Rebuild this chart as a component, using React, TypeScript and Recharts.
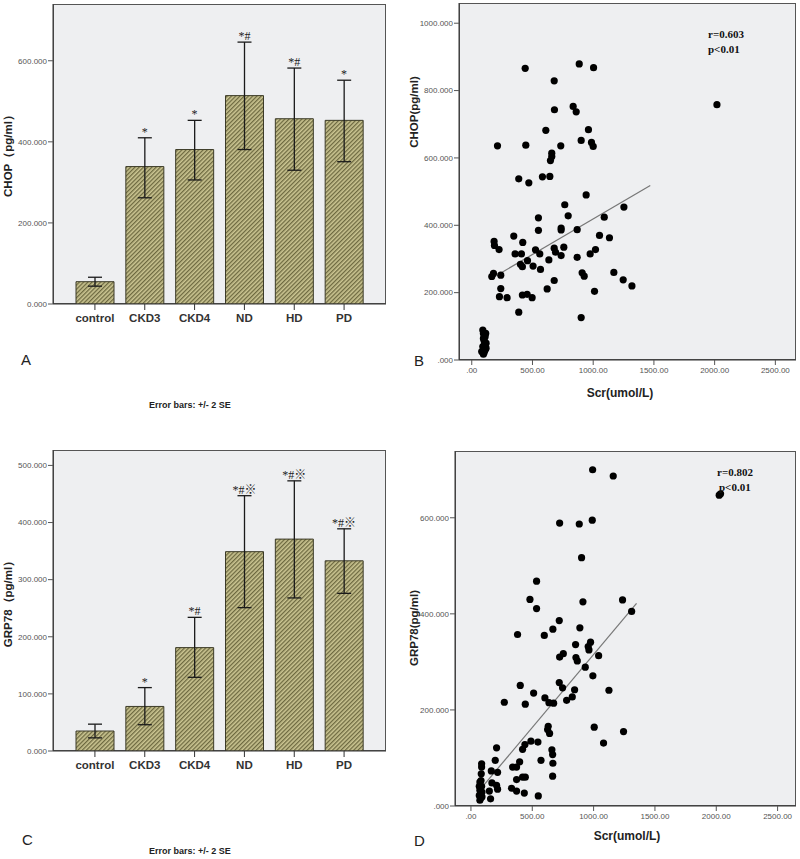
import React from 'react';
import {
  ComposedChart,
  Bar,
  Line,
  ErrorBar,
  LabelList,
  XAxis,
  YAxis,
  ScatterChart,
  Scatter,
  ReferenceLine,
} from 'recharts';

// groups shared by the two bar panels
const groups = ['control', 'CKD3', 'CKD4', 'ND', 'HD', 'PD'];

// panel A: CHOP, mean with +/- 2 SE bounds
const chopMean = [55, 339, 381, 514, 457, 453];
const chopLower = [44, 262, 306, 381, 330, 351];
const chopUpper = [66, 410, 453, 646, 582, 552];
const chopMarks = ['', '*', '*', '*#', '*#', '*'];
const chopTicks = [0, 200, 400, 600];

// panel C: GRP78
const grpMean = [35, 78, 181, 349, 371, 333];
const grpLower = [23, 46, 129, 251, 268, 276];
const grpUpper = [47, 111, 234, 447, 473, 389];
const grpMarks = ['', '*', '*#', '*#※', '*#※', '*#※'];
const grpTicks = [0, 100, 200, 300, 400, 500];

// panel B: Scr vs CHOP
const scrB = [440, 885, 1003, 679, 681, 835, 860, 2019, 610, 961, 901, 986, 1000, 212, 445, 733, 659, 659, 648, 387,
  470, 582, 643, 942, 766, 1253, 794, 549, 1091, 736, 736, 549, 868, 346, 1052, 1134, 184, 187, 225, 420,
  679, 758, 525, 357, 409, 560, 690, 736, 975, 1019, 868, 459, 635, 401, 417, 505, 566, 179, 165, 239,
  909, 926, 1170, 1247, 1319, 679, 239, 621, 228, 291, 417, 456, 497, 1011, 387, 901,
  91, 96, 110, 102, 118, 91, 110, 82, 102, 118, 96, 115, 104, 96];
const chopB = [866, 879, 868, 829, 743, 753, 737, 758, 682, 684, 652, 646, 634, 636, 638, 636, 614, 604, 592, 538,
  526, 544, 545, 490, 461, 454, 428, 422, 424, 392, 386, 385, 387, 368, 370, 363, 352, 340, 328, 349,
  332, 335, 327, 315, 315, 315, 320, 310, 315, 328, 305, 295, 297, 284, 277, 279, 269, 257, 248, 252,
  259, 249, 260, 238, 220, 236, 212, 211, 188, 185, 193, 195, 185, 204, 142, 126,
  89, 79, 69, 57, 50, 40, 30, 25, 22, 35, 64, 79, 45, 17];
const fitB = [{ x: 233, y: 257 }, { x: 1470, y: 518 }];
const chopBTicks = [0, 200, 400, 600, 800, 1000];

// panel D: Scr vs GRP78
const scrD = [992, 1160, 2024, 2035, 723, 883, 989, 902, 535, 481, 535, 913, 1236, 1310, 720, 888, 668, 380, 598, 853,
  975, 956, 962, 753, 723, 856, 867, 1041, 932, 994, 720, 747, 845, 1125, 402, 511, 826, 780, 603, 636,
  674, 443, 272, 630, 625, 641, 1005, 1244, 1081, 489, 546, 440, 421, 209, 660, 666, 668, 571, 198, 397,
  372, 340, 166, 217, 372, 421, 443, 666, 171, 209, 217, 331, 372, 435, 549, 150, 160,
  87, 87, 84, 82, 73, 68, 87, 73, 90, 68, 82, 73, 90];
const grpD = [700, 687, 647, 650, 589, 587, 595, 517, 468, 430, 411, 425, 429, 405, 386, 371, 368, 357, 355, 336,
  341, 332, 325, 317, 310, 309, 302, 313, 289, 271, 257, 246, 242, 241, 251, 235, 227, 220, 225, 215,
  214, 212, 216, 166, 159, 151, 164, 155, 131, 135, 133, 128, 118, 121, 117, 107, 89, 95, 95, 92,
  81, 81, 73, 70, 55, 60, 60, 62, 48, 43, 35, 37, 31, 27, 21, 31, 15,
  88, 81, 67, 53, 50, 41, 41, 33, 29, 22, 17, 12, 19];
const fitD = [{ x: 110, y: 45 }, { x: 1350, y: 422 }];
const grpDTicks = [0, 200, 400, 600];
const scrTicks = [0, 500, 1000, 1500, 2000, 2500];

const SANS = '"Liberation Sans", Arial, sans-serif';
const SERIF = '"Liberation Serif", "Times New Roman", "Noto Sans CJK SC", serif';
const PLOT_BG = '#eeeff1';

const buildBars = (mean: number[], lower: number[], upper: number[], marks: string[]) =>
  groups.map((g, i) => ({
    group: g,
    mean: mean[i],
    err: [mean[i] - lower[i], upper[i] - mean[i]],
    top: upper[i],
    mark: marks[i],
  }));

const chopData = buildBars(chopMean, chopLower, chopUpper, chopMarks);
const grpData = buildBars(grpMean, grpLower, grpUpper, grpMarks);
const pointsB = scrB.map((x, i) => ({ x, y: chopB[i] }));
const pointsD = scrD.map((x, i) => ({ x, y: grpD[i] }));

const fmtY = (v: number) => (v === 0 ? '0.000' : v.toFixed(3));
const fmtYs = (v: number) => (v === 0 ? '.000' : v.toFixed(3));
const fmtX = (v: number) => (v === 0 ? '.00' : v.toFixed(2));

const tickStyle = { fontSize: 8, fill: '#555', fontFamily: SANS };

const vLabel = (text: string, x: number, cy: number) => () => (
  <text
    x={x}
    y={cy}
    transform={`rotate(-90 ${x} ${cy})`}
    textAnchor="middle"
    dominantBaseline="central"
    fontSize={11.5}
    fontWeight="bold"
    fill="#222"
    fontFamily={SANS}
  >
    {text}
  </text>
);

// significance marks sit just above the upper error whisker
const MarkLabel = (p: any) =>
  p.value ? (
    <text x={p.x} y={p.y - 2} textAnchor="middle" fontSize={12} fill="#222" stroke="none" fontFamily={SERIF}>
      {p.value}
    </text>
  ) : null;

const Dot = (p: any) => <circle cx={p.cx} cy={p.cy} r={3.6} fill="#000" />;

type BarProps = {
  data: any[];
  yMax: number;
  ticks: number[];
  yLabel: string;
  labelY: number;
  height: number;
  top: number;
  bottom: number;
  id: string;
};

const BarPanel = ({ data, yMax, ticks, yLabel, labelY, height, top, bottom, id }: BarProps) => (
  <div style={{ position: 'relative', width: 400, height }}>
    <div
      style={{
        position: 'absolute',
        left: 53,
        top,
        width: 333,
        height: height - top - bottom,
        background: PLOT_BG,
        border: '1px solid #555',
        boxSizing: 'border-box',
      }}
    />
    <ComposedChart
      width={400}
      height={height}
      data={data}
      margin={{ top, right: 14, bottom: bottom - 30, left: 0 }}
      style={{ position: 'absolute', left: 0, top: 0 }}
    >
      <defs>
        <pattern id={id} width="3" height="3" patternUnits="userSpaceOnUse" patternTransform="rotate(45)">
          <rect width="3" height="3" fill="#cbc592" />
          <rect width="1.3" height="3" fill="#6d6940" />
        </pattern>
      </defs>
      <XAxis
        dataKey="group"
        height={30}
        padding={{ left: 17, right: 17 }}
        axisLine={{ stroke: '#333' }}
        tickLine={{ stroke: '#333' }}
        tickSize={6}
        tickMargin={4}
        tick={{ fontSize: 11.5, fontWeight: 'bold', fill: '#333', fontFamily: SANS }}
        interval={0}
      />
      <YAxis
        width={53}
        domain={[0, yMax]}
        ticks={ticks}
        allowDataOverflow
        tickFormatter={fmtY}
        axisLine={{ stroke: '#333' }}
        tickLine={{ stroke: '#555' }}
        tickSize={5}
        tickMargin={1}
        tick={tickStyle}
        label={vLabel(yLabel, 8, labelY)}
      />
      <Bar dataKey="mean" barSize={38} fill={`url(#${id})`} stroke="#3c3b28" strokeWidth={1} isAnimationActive={false}>
        <ErrorBar dataKey="err" width={7} stroke="#1a1a1a" strokeWidth={1.3} />
      </Bar>
      <Line dataKey="top" stroke="none" dot={false} activeDot={false} isAnimationActive={false}>
        <LabelList dataKey="mark" content={MarkLabel} />
      </Line>
    </ComposedChart>
  </div>
);

type ScatterProps = {
  points: { x: number; y: number }[];
  fit: { x: number; y: number }[];
  xDomain: number[];
  yMax: number;
  yTicks: number[];
  yLabel: string;
  labelY: number;
  height: number;
  top: number;
  bottom: number;
  yWidth: number;
};

const ScatterPanel = ({ points, fit, xDomain, yMax, yTicks, yLabel, labelY, height, top, bottom, yWidth }: ScatterProps) => (
  <div style={{ position: 'relative', width: 400, height }}>
    <div
      style={{
        position: 'absolute',
        left: yWidth,
        top,
        width: 400 - 4 - yWidth,
        height: height - top - bottom,
        background: PLOT_BG,
        border: '1px solid #555',
        boxSizing: 'border-box',
      }}
    />
    <ScatterChart
      width={400}
      height={height}
      margin={{ top, right: 4, bottom: bottom - 20, left: 0 }}
      style={{ position: 'absolute', left: 0, top: 0 }}
    >
      <XAxis
        type="number"
        dataKey="x"
        height={20}
        domain={xDomain}
        ticks={scrTicks}
        allowDataOverflow
        tickFormatter={fmtX}
        axisLine={{ stroke: '#333' }}
        tickLine={{ stroke: '#555' }}
        tickSize={5}
        tickMargin={2}
        tick={tickStyle}
      />
      <YAxis
        type="number"
        dataKey="y"
        width={yWidth}
        domain={[0, yMax]}
        ticks={yTicks}
        allowDataOverflow
        tickFormatter={fmtYs}
        axisLine={{ stroke: '#333' }}
        tickLine={{ stroke: '#555' }}
        tickSize={5}
        tickMargin={1}
        tick={tickStyle}
        label={vLabel(yLabel, 14, labelY)}
      />
      <ReferenceLine segment={fit} stroke="#777" strokeWidth={1.2} />
      <Scatter data={points} shape={Dot} isAnimationActive={false} />
    </ScatterChart>
  </div>
);

const abs = (left: number, top: number, extra: React.CSSProperties = {}): React.CSSProperties => ({
  position: 'absolute',
  left,
  top,
  lineHeight: 1,
  whiteSpace: 'nowrap',
  ...extra,
});

const letter = { fontSize: 15, fontFamily: SANS, color: '#222' };
const caption = { fontSize: 9, fontWeight: 'bold' as const, fontFamily: SANS, color: '#222', width: 200, textAlign: 'center' as const };
const stat = { fontSize: 11, fontWeight: 'bold' as const, fontFamily: SERIF, color: '#111' };
const xTitle = { fontSize: 12, fontWeight: 'bold' as const, fontFamily: SANS, color: '#222', width: 200, textAlign: 'center' as const };

export default function App() {
  return (
    <div style={{ position: 'absolute', left: 0, top: 0, width: 800, height: 859, background: '#fff', overflow: 'hidden' }}>
      <div style={abs(0, 0)}>
        <BarPanel data={chopData} yMax={740} ticks={chopTicks} yLabel="CHOP（pg/ml）" labelY={153}
          height={420} top={4} bottom={116} id="hatchA" />
      </div>
      <div style={abs(400, 0)}>
        <ScatterPanel points={pointsB} fit={fitB} xDomain={[-105, 2670]} yMax={1060} yTicks={chopBTicks}
          yLabel="CHOP(pg/ml)" labelY={112} height={420} top={3} bottom={60} yWidth={59} />
      </div>
      <div style={abs(0, 420)}>
        <BarPanel data={grpData} yMax={527} ticks={grpTicks} yLabel="GRP78（pg/ml）" labelY={181}
          height={439} top={30} bottom={108} id="hatchC" />
      </div>
      <div style={abs(400, 420)}>
        <ScatterPanel points={pointsD} fit={fitD} xDomain={[-130, 2650]} yMax={739} yTicks={grpDTicks}
          yLabel="GRP78(pg/ml)" labelY={208} height={439} top={31} bottom={53} yWidth={55} />
      </div>

      <div style={abs(21, 352, letter)}>A</div>
      <div style={abs(414, 353, letter)}>B</div>
      <div style={abs(22, 832, letter)}>C</div>
      <div style={abs(414, 833, letter)}>D</div>

      <div style={abs(90, 401, caption)}>Error bars: +/- 2 SE</div>
      <div style={abs(90, 847, caption)}>Error bars: +/- 2 SE</div>

      <div style={abs(520, 387, xTitle)}>Scr(umol/L)</div>
      <div style={abs(527, 830, xTitle)}>Scr(umol/L)</div>

      <div style={abs(708, 29, stat)}>r=0.603</div>
      <div style={abs(708, 44, stat)}>p&lt;0.01</div>
      <div style={abs(717, 467, stat)}>r=0.802</div>
      <div style={abs(719, 482, stat)}>p&lt;0.01</div>
    </div>
  );
}
